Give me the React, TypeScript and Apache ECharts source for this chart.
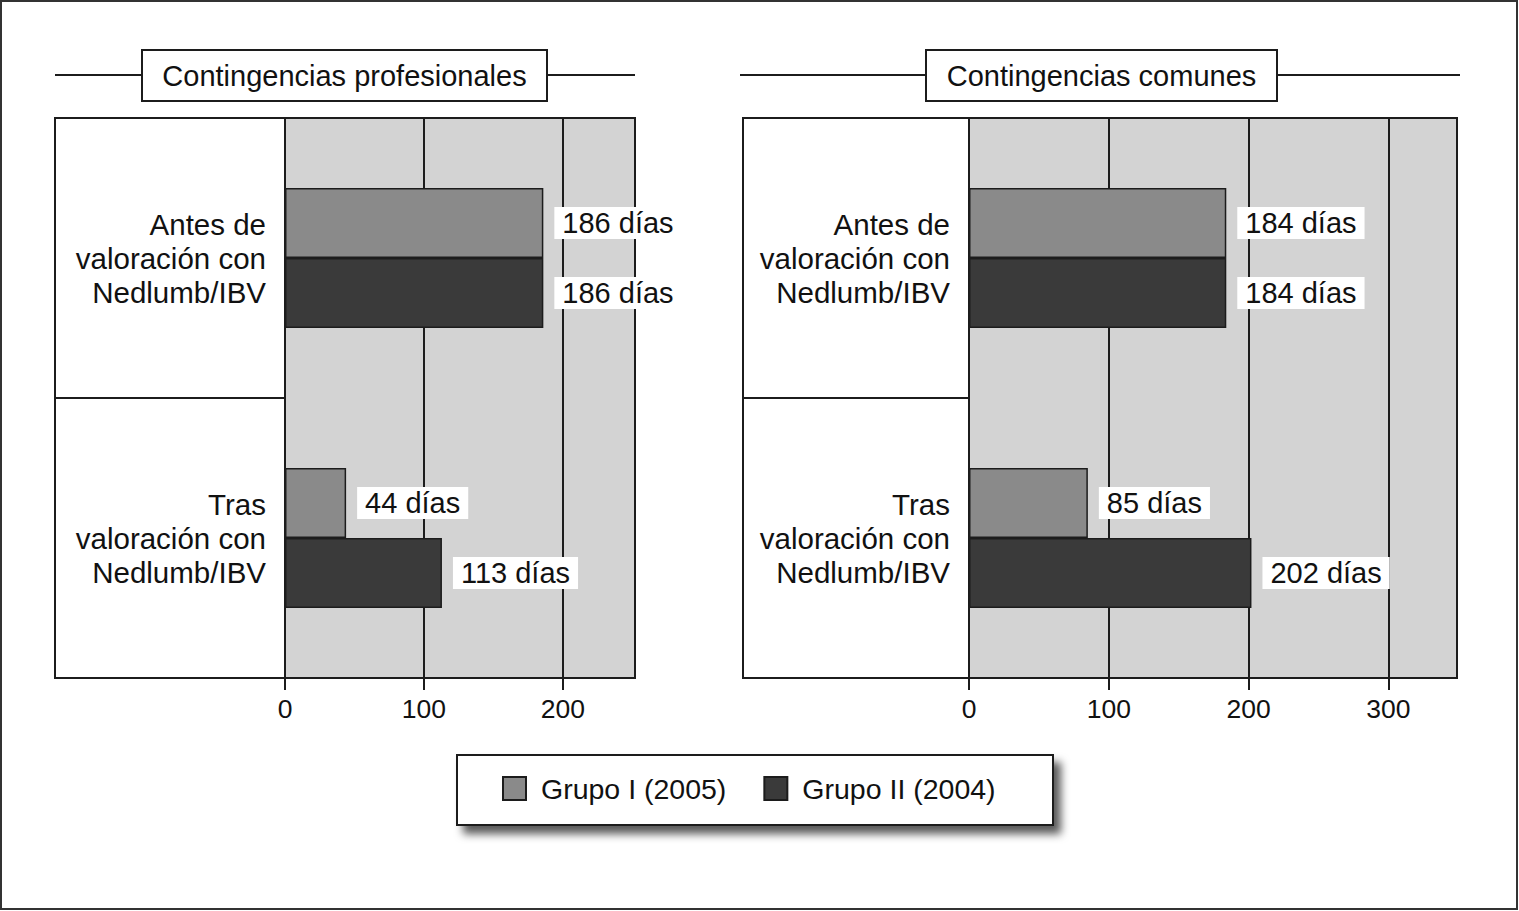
import React, { useEffect, useRef } from "react";
import * as echarts from "echarts";

const categories = [
  "Antes de\nvaloración con\nNedlumb/IBV",
  "Tras\nvaloración con\nNedlumb/IBV",
];
const seriesNames = ["Grupo I (2005)", "Grupo II (2004)"];
const profGrupoI = [186, 44];
const profGrupoII = [186, 113];
const comGrupoI = [184, 85];
const comGrupoII = [184, 202];
const panelTitles = ["Contingencias profesionales", "Contingencias comunes"];
const xMax = [252, 349];
const xInterval = 100;
const unitSuffix = " días";

const FONT = '"Liberation Sans", Arial, Helvetica, sans-serif';
const INK = "#1c1c1c";
const C1 = "#8a8a8a";
const C2 = "#3a3a3a";
const PLOT_BG = "#d3d3d3";

export default function App() {
  const ref = useRef<HTMLDivElement>(null);
  useEffect(() => {
    if (!ref.current) return;
    const chart = echarts.init(ref.current, undefined, { renderer: "svg" });

    const grids = [
      { left: 285, top: 118, width: 350, height: 560 },
      { left: 969, top: 118, width: 488, height: 560 },
    ];
    const boxLeft = [55, 743];
    const titleBox = [
      { x: 142, w: 405, lineX1: 55, lineX2: 635 },
      { x: 926, w: 351, lineX1: 740, lineX2: 1460 },
    ];

    const barLabel = {
      show: true,
      position: "right",
      distance: 11,
      formatter: (p: any) => `${p.value}${unitSuffix}`,
      backgroundColor: "#ffffff",
      padding: [2, 8, 1, 8],
      color: "#111",
      fontSize: 29,
      lineHeight: 29,
      fontFamily: FONT,
    };

    const mkSeries = (name: string, data: number[], color: string, idx: number) => ({
      type: "bar",
      name,
      data,
      xAxisIndex: idx,
      yAxisIndex: idx,
      barWidth: 70,
      barGap: "0%",
      itemStyle: { color, borderColor: INK, borderWidth: 1.5 },
      label: barLabel,
      z: 5,
    });

    const graphic: any[] = [
      {
        type: "rect",
        shape: { x: 1, y: 1, width: 1516, height: 908 },
        style: { fill: "none", stroke: "#333", lineWidth: 2 },
        silent: true,
        z: 0,
      },
    ];
    [0, 1].forEach((i) => {
      const g = grids[i];
      graphic.push({
        type: "rect",
        shape: { x: boxLeft[i], y: g.top, width: g.left + g.width - boxLeft[i], height: g.height },
        style: { fill: "none", stroke: INK, lineWidth: 2 },
        silent: true,
        z: 1,
      });
      const t = titleBox[i];
      graphic.push({
        type: "line",
        shape: { x1: t.lineX1, y1: 75, x2: t.lineX2, y2: 75 },
        style: { stroke: INK, lineWidth: 2 },
        silent: true,
        z: 10,
      });
      graphic.push({
        type: "rect",
        shape: { x: t.x, y: 50, width: t.w, height: 51 },
        style: { fill: "#fff", stroke: INK, lineWidth: 2 },
        silent: true,
        z: 11,
      });
      graphic.push({
        type: "text",
        x: t.x + t.w / 2,
        y: 76,
        style: {
          text: panelTitles[i],
          fontSize: 29,
          fontFamily: FONT,
          fill: "#111",
          align: "center",
          verticalAlign: "middle",
        },
        silent: true,
        z: 12,
      });
    });
    // legend box with shadow
    graphic.push({
      type: "rect",
      shape: { x: 457, y: 755, width: 596, height: 70 },
      style: {
        fill: "#fff",
        stroke: INK,
        lineWidth: 2,
        shadowBlur: 8,
        shadowOffsetX: 7,
        shadowOffsetY: 8,
        shadowColor: "rgba(0,0,0,0.65)",
      },
      silent: true,
      z: 0,
    });

    const option: any = {
      animation: false,
      backgroundColor: "#ffffff",
      textStyle: { fontFamily: FONT },
      grid: grids.map((g) => ({
        ...g,
        show: true,
        backgroundColor: PLOT_BG,
        borderColor: INK,
        borderWidth: 2,
        containLabel: false,
      })),
      xAxis: [0, 1].map((i) => ({
        type: "value",
        gridIndex: i,
        min: 0,
        max: xMax[i],
        interval: xInterval,
        axisLine: { show: true, lineStyle: { color: INK, width: 2 } },
        axisTick: { show: true, length: 12, lineStyle: { color: INK, width: 2 } },
        axisLabel: {
          show: true,
          showMaxLabel: false,
          margin: 17,
          fontSize: 26.5,
          color: "#111",
          fontFamily: FONT,
        },
        splitLine: { show: true, lineStyle: { color: INK, width: 2 } },
      })),
      yAxis: [0, 1].map((i) => ({
        type: "category",
        gridIndex: i,
        data: categories,
        inverse: true,
        axisLine: { show: true, lineStyle: { color: INK, width: 2 } },
        axisTick: {
          show: true,
          alignWithLabel: false,
          length: grids[i].left - boxLeft[i],
          lineStyle: { color: INK, width: 2 },
        },
        axisLabel: {
          margin: 19,
          fontSize: 29.5,
          lineHeight: 34,
          color: "#111",
          fontFamily: FONT,
          align: "right",
        },
        splitLine: { show: false },
      })),
      legend: {
        data: seriesNames,
        left: 502,
        top: 774,
        padding: 0,
        itemWidth: 23,
        itemHeight: 23,
        itemGap: 37,
        icon: "rect",
        textStyle: { fontSize: 28.5, color: "#111", fontFamily: FONT, padding: [0, 0, 0, 10] },
        z: 5,
      },
      series: [
        mkSeries(seriesNames[0], profGrupoI, C1, 0),
        mkSeries(seriesNames[1], profGrupoII, C2, 0),
        mkSeries(seriesNames[0], comGrupoI, C1, 1),
        mkSeries(seriesNames[1], comGrupoII, C2, 1),
      ],
      graphic,
    };
    chart.setOption(option);
    return () => chart.dispose();
  }, []);

  return (
    <div
      ref={ref}
      style={{ position: "fixed", left: 0, top: 0, width: 1519, height: 911, background: "#fff" }}
    />
  );
}
